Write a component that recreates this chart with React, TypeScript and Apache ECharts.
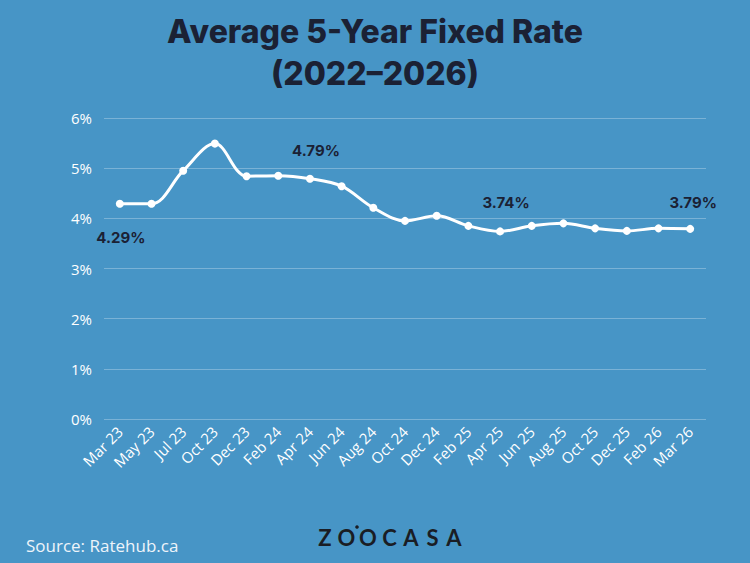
import React, { useEffect, useRef } from "react";
import * as echarts from "echarts";

// Average 5-year fixed mortgage rate, Mar 2023 – Mar 2026
const months = [
  "Mar 23", "May 23", "Jul 23", "Oct 23", "Dec 23", "Feb 24", "Apr 24",
  "Jun 24", "Aug 24", "Oct 24", "Dec 24", "Feb 25", "Apr 25", "Jun 25",
  "Aug 25", "Oct 25", "Dec 25", "Feb 26", "Mar 26",
];
const rates = [
  4.29, 4.29, 4.95, 5.49, 4.84, 4.85, 4.79, 4.64, 4.21, 3.95, 4.05, 3.85,
  3.74, 3.85, 3.90, 3.80, 3.75, 3.80, 3.79,
];
// Points whose value is printed next to the marker
const labelled: Record<number, { position: string; distance: number; offset: number[] }> = {
  0: { position: "bottom", distance: 22, offset: [1, 0] },
  6: { position: "top", distance: 17, offset: [6, 0] },
  12: { position: "top", distance: 17, offset: [6, 0] },
  18: { position: "top", distance: 15, offset: [3, 0] },
};
const yTicks = [0, 1, 2, 3, 4, 5, 6];
const logoLetters = ["Z", "O", "O", "C", "A", "S", "A"];

const BG = "#4795c6";
const DARK = "#1b2134";
const LOGO = "#1a1d24";

export default function App() {
  const ref = useRef<HTMLDivElement>(null);

  useEffect(() => {
    document.body.style.margin = "0";
    const chart = echarts.init(ref.current!, undefined, { renderer: "svg" });

    const seriesData = rates.map((v, i) => {
      const l = labelled[i];
      if (!l) return v;
      return {
        value: v,
        label: {
          show: true,
          position: l.position,
          distance: l.distance,
          offset: l.offset,
          formatter: (p: any) => p.value.toFixed(2) + "%",
          color: DARK,
          fontFamily: "Inter, 'Open Sans', sans-serif",
          fontWeight: 700,
          fontSize: 15,
        },
      };
    });

    // wordmark: spaced capitals with a small accent dot
    const logo: any[] = logoLetters.map((ch, i) => ({
      type: "text",
      x: 325 + i * 21.5,
      y: 537,
      style: {
        text: ch,
        fill: LOGO,
        fontSize: 22,
        fontWeight: 700,
        fontFamily: "Lato, 'Open Sans', sans-serif",
        align: "center",
        verticalAlign: "middle",
      },
    }));
    logo.push({
      type: "circle",
      shape: { cx: 357, cy: 527, r: 1.8 },
      style: { fill: LOGO },
    });

    chart.setOption({
      animation: false,
      backgroundColor: BG,
      title: {
        text: "Average 5-Year Fixed Rate\n(2022–2026)",
        left: "center",
        top: 5,
        textStyle: {
          color: DARK,
          fontFamily: "Inter, 'Open Sans', sans-serif",
          fontWeight: 800,
          fontSize: 32,
          lineHeight: 42,
        },
      },
      grid: { left: 104, right: 44, top: 118, bottom: 144, containLabel: false },
      xAxis: {
        type: "category",
        data: months,
        boundaryGap: true,
        axisLine: { show: false },
        axisTick: { show: false },
        axisLabel: {
          color: "#ffffff",
          rotate: 45,
          interval: 0,
          margin: 10,
          fontSize: 15,
          fontFamily: "'Open Sans', sans-serif",
        },
      },
      yAxis: {
        type: "value",
        min: yTicks[0],
        max: yTicks[yTicks.length - 1],
        interval: 1,
        axisLine: { show: false },
        axisTick: { show: false },
        axisLabel: {
          color: "#ffffff",
          margin: 12,
          fontSize: 15,
          fontFamily: "'Open Sans', sans-serif",
          formatter: (v: number) => v + "%",
        },
        splitLine: { lineStyle: { color: "rgba(255,255,255,0.28)", width: 1 } },
      },
      series: [
        {
          type: "line",
          data: seriesData,
          smooth: 0.35,
          symbol: "circle",
          symbolSize: 8,
          lineStyle: { color: "#ffffff", width: 3 },
          itemStyle: { color: "#ffffff" },
        },
      ],
      graphic: [
        {
          type: "text",
          left: 26,
          top: 537,
          style: {
            text: "Source: Ratehub.ca",
            fill: "#eef4fa",
            fontSize: 17,
            fontFamily: "'Open Sans', sans-serif",
          },
        },
        ...logo,
      ],
    });

    return () => chart.dispose();
  }, []);

  return <div ref={ref} style={{ width: 750, height: 563 }} />;
}
